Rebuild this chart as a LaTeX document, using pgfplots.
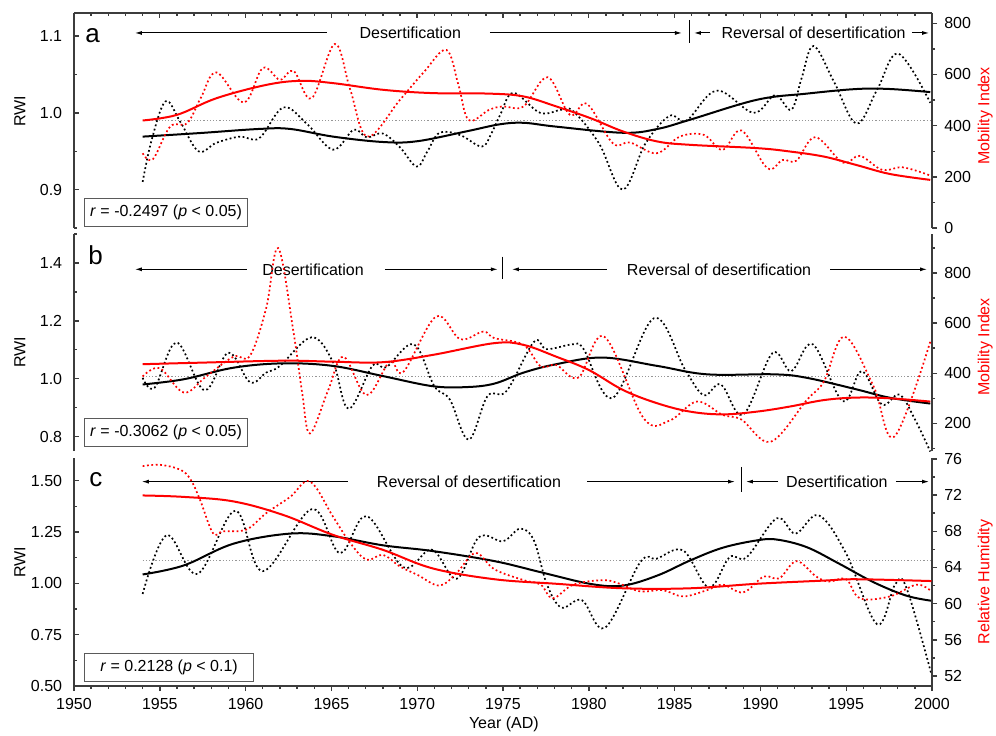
\documentclass[border=0pt]{standalone}
\usepackage{fontspec}
\setmainfont{Liberation Sans}
\usepackage{pgfplots}
\pgfplotsset{compat=1.18}
\usetikzlibrary{arrows.meta}
\definecolor{axgray}{RGB}{60,60,60}
\definecolor{boxgray}{RGB}{90,90,90}
\definecolor{meangray}{RGB}{150,150,150}
\tikzset{
  dotl/.style={line width=0.85pt, dash pattern=on 0.9pt off 1.3pt, smooth, tension=0.6},
  soll/.style={line width=1pt, smooth, tension=0.6},
  arr/.style={-{Latex[length=3.5pt,width=2pt]}, line width=0.5pt},
  ann/.style={font=\fontsize{8}{9.6}\selectfont, inner sep=0pt, anchor=center},
  rbox/.style={draw=boxgray, line width=0.5pt, inner sep=0pt, anchor=south west, font=\fontsize{8}{9.6}\selectfont, minimum height=14pt},
  lbl/.style={font=\fontsize{13}{15}\selectfont, inner sep=0pt, anchor=base west},
}
\pgfplotsset{
  base/.style={scale only axis, width=429pt, xmin=1950, xmax=2000, anchor=south west,
    clip mode=individual,
    axis line style={-, line width=0.9pt, draw=axgray},
    tick style={line width=0.7pt, draw=axgray},
    major tick length=2.6pt, minor tick length=1.6pt,
    xtick={1950,1955,...,2000}, minor x tick num=4,
    tick label style={font=\fontsize{8}{9.6}\selectfont, /pgf/number format/assume math mode=true, /pgf/number format/1000 sep={}},
  },
  lft/.style={base, axis y line*=left, tick align=inside, yticklabel style={xshift=-2.4pt}},
  rgt/.style={base, axis y line*=right, axis x line=none, tick align=outside},
}
\begin{document}
\begin{tikzpicture}
\useasboundingbox (0,0) rectangle (498pt,367.5pt);

% ================= Panel a =================
\begin{axis}[lft, height=107.5pt, at={(37pt,253.5pt)},
  axis x line*=top, xticklabels={},
  ymin=0.85, ymax=1.13, ytick={0.9,1.0,1.1}, minor ytick={0.85,0.95,1.05},
  yticklabel style={/pgf/number format/.cd, fixed, fixed zerofill, precision=1}]
\addplot[meangray, line width=0.5pt, dash pattern=on 0.6pt off 1pt] coordinates {(1954,0.9896) (2000,0.9896)};
\addplot[black, dotl] coordinates {(1954.0,0.910) (1954.53,0.965) (1955.34,1.015) (1956.2,0.988) (1957.25,0.950) (1958.3,0.961) (1959.67,0.969) (1960.8,0.967) (1962.2,1.007) (1963.6,0.985) (1965.1,0.952) (1966.3,0.978) (1967.06,0.968) (1968.0,0.973) (1969.0,0.955) (1969.97,0.930) (1970.6,0.950) (1971.3,0.974) (1972.5,0.971) (1973.76,0.956) (1974.3,0.972) (1974.85,0.998) (1975.6,1.026) (1977.16,1.000) (1978.4,1.004) (1979.1,1.002) (1980.6,0.960) (1981.97,0.900) (1983.3,0.960) (1984.7,0.996) (1985.7,0.990) (1987.45,1.029) (1989.6,1.000) (1990.85,1.023) (1991.8,1.004) (1992.4,1.045) (1993.1,1.087) (1994.3,1.040) (1995.6,0.986) (1996.8,1.030) (1998.04,1.077) (1999.9,1.013)};
\addplot[black, soll] coordinates {(1954,0.969) (1957.3,0.9736) (1960.8,0.979) (1962.6,0.979) (1965.1,0.969) (1968.0,0.962) (1970,0.963) (1972.9,0.976) (1974.8,0.985) (1976.2,0.987) (1978.1,0.982) (1982.0,0.974) (1984,0.979) (1985.9,0.991) (1989.8,1.017) (1992.7,1.025) (1995.6,1.031) (1997.55,1.031) (1999.9,1.027)};
\node[lbl] at (axis cs:1950.64,1.091) {a};
\draw[arr] (axis cs:1964.74,1.104) -- (axis cs:1953.55,1.104);
\node[ann] at (axis cs:1969.6,1.104) {Desertification};
\draw[arr] (axis cs:1974.24,1.104) -- (axis cs:1985.43,1.104);
\draw[line width=0.5pt] (axis cs:1985.84,1.121) -- (axis cs:1985.84,1.091);
\draw[arr] (axis cs:1987.06,1.104) -- (axis cs:1986.13,1.104);
\node[ann] at (axis cs:1993.1,1.104) {Reversal of desertification};
\draw[arr] (axis cs:1998.83,1.104) -- (axis cs:1999.83,1.104);
\node[rbox, minimum width=81.5pt] at (axis description cs:0.0117,0.005) {\textit{r} = -0.2497 (\textit{p} < 0.05)};
\node[font=\fontsize{8}{9.6}\selectfont, rotate=90, anchor=center] at (axis description cs:-0.063,0.544) {RWI};
\end{axis}
\begin{axis}[rgt, height=107.5pt, at={(37pt,253.5pt)},
  ymin=0, ymax=840, ytick={0,200,...,800}, minor ytick={100,300,500,700}]
\addplot[red, dotl] coordinates {(1954.0,292) (1954.6,269) (1955.6,396) (1956.6,410) (1957.4,510) (1958.3,608) (1959.9,490) (1961.0,625) (1962.0,579) (1962.8,614) (1963.85,507) (1965.2,719) (1966.1,540) (1967.1,357) (1969.0,501) (1970.4,610) (1971.7,696) (1972.4,560) (1973.0,422) (1974.2,462) (1975.0,475) (1976.2,475) (1977.6,589) (1978.9,442) (1979.9,485) (1981.4,331) (1982.4,334) (1983.96,292) (1985.3,357) (1986.7,364) (1987.8,305) (1988.9,381) (1990.4,234) (1991.3,266) (1992.1,263) (1993.2,355) (1994.8,256) (1995.8,282) (1997.1,227) (1998.3,237) (1999.9,205)};
\addplot[red, soll] coordinates {(1954,420) (1956,442) (1958.3,507) (1961.2,559) (1963.2,575) (1965.1,566) (1968.0,540) (1970.9,527) (1974.2,525) (1976.2,514) (1978.1,475) (1980.1,429) (1982.0,377) (1984.0,338) (1985.9,325) (1989.8,312) (1991.7,299) (1993.7,279) (1995.6,246) (1997.55,211) (1999.9,188)};
\node[font=\fontsize{8}{9.6}\selectfont, rotate=90, anchor=center, text=red] at (axis description cs:1.062,0.521) {Mobility Index};
\end{axis}

% ================= Panel b =================
\begin{axis}[lft, height=108.5pt, at={(37pt,142pt)}, axis x line=none,
  ymin=0.75, ymax=1.5, ytick={0.8,1.0,1.2,1.4}, minor ytick={0.9,1.1,1.3,1.5},
  yticklabel style={/pgf/number format/.cd, fixed, fixed zerofill, precision=1}]
\addplot[meangray, line width=0.5pt, dash pattern=on 0.6pt off 1pt] coordinates {(1954,1.009) (2000,1.009)};
\addplot[black, dotl] coordinates {(1954,1.003) (1954.7,0.969) (1955.98,1.125) (1957.6,0.960) (1959.0,1.090) (1960.25,0.988) (1961.2,1.021) (1962.0,1.044) (1963.85,1.143) (1965.1,1.056) (1966.0,0.896) (1967.4,1.045) (1968.2,1.040) (1969.8,1.119) (1971.0,0.974) (1971.9,0.928) (1973.0,0.789) (1974.1,0.940) (1975.2,0.957) (1976.8,1.127) (1977.55,1.102) (1979.1,1.119) (1979.7,1.102) (1981.4,0.934) (1983.8,1.209) (1985.6,1.032) (1986.7,0.943) (1987.7,0.980) (1989.0,0.876) (1990.7,1.088) (1991.8,1.026) (1993.05,1.119) (1994.8,0.922) (1995.9,1.026) (1997.07,0.911) (1998.1,0.945) (1999.0,0.860) (1999.9,0.748)};
\addplot[black, soll] coordinates {(1954,0.980) (1956.4,0.998) (1959.3,1.038) (1962.2,1.053) (1965.1,1.044) (1968.0,1.009) (1970.9,0.974) (1972.9,0.971) (1974.5,0.983) (1976.2,1.021) (1978.1,1.050) (1980.8,1.073) (1984.0,1.044) (1986.9,1.015) (1990.8,1.015) (1992.7,1.003) (1995.6,0.963) (1997.55,0.934) (1999.9,0.914)};
\node[lbl] at (axis cs:1950.82,1.394) {b};
\draw[arr] (axis cs:1960.08,1.378) -- (axis cs:1953.55,1.378);
\node[ann] at (axis cs:1963.93,1.378) {Desertification};
\draw[arr] (axis cs:1968.12,1.378) -- (axis cs:1974.7,1.378);
\draw[line width=0.5pt] (axis cs:1975.0,1.422) -- (axis cs:1975.0,1.345);
\draw[arr] (axis cs:1981.06,1.378) -- (axis cs:1975.52,1.378);
\node[ann] at (axis cs:1987.59,1.378) {Reversal of desertification};
\draw[arr] (axis cs:1994.06,1.378) -- (axis cs:1999.71,1.378);
\node[rbox, minimum width=81.5pt] at (axis description cs:0.0117,0.018) {\textit{r} = -0.3062 (\textit{p} < 0.05)};
\node[font=\fontsize{8}{9.6}\selectfont, rotate=90, anchor=center] at (axis description cs:-0.063,0.456) {RWI};
\end{axis}
\begin{axis}[rgt, height=108.5pt, at={(37pt,142pt)},
  ymin=90, ymax=955, ytick={200,400,600,800}, minor ytick={100,300,500,700,900}]
\addplot[red, dotl] coordinates {(1954,387) (1955.0,420) (1956.4,323) (1957.7,387) (1959.3,466) (1960.25,469) (1961.2,660) (1961.9,899) (1962.8,560) (1963.3,320) (1963.75,160) (1964.8,330) (1965.7,466) (1967.05,313) (1968.4,446) (1969.2,406) (1971.1,626) (1972.5,536) (1973.85,566) (1974.5,540) (1976.2,513) (1977.2,427) (1978.1,433) (1979.4,383) (1980.9,546) (1983.2,220) (1984.7,211) (1986.3,287) (1987.8,234) (1988.9,215) (1990.6,127) (1992.7,293) (1993.7,367) (1994.9,546) (1996.6,347) (1997.8,147) (1999.9,526)};
\addplot[red, soll] coordinates {(1954,436) (1957.3,442) (1962.2,450) (1965.1,446) (1968,444) (1970.9,473) (1974.5,520) (1976.2,513) (1978.1,466) (1980.0,413) (1982.0,333) (1984.0,280) (1985.9,247) (1987.8,236) (1989.8,247) (1991.7,267) (1993.7,293) (1995.6,303) (1997.55,300) (1999.9,287)};
\node[font=\fontsize{8}{9.6}\selectfont, rotate=90, anchor=center, text=red] at (axis description cs:1.062,0.479) {Mobility Index};
\end{axis}

% ================= Panel c =================
\begin{axis}[lft, height=114pt, at={(37pt,24.5pt)}, axis x line=none,
  ymin=0.5, ymax=1.61, ytick={0.5,0.75,1.0,1.25,1.5}, minor ytick={0.625,0.875,1.125,1.375},
  yticklabel style={/pgf/number format/.cd, fixed, fixed zerofill, precision=2}]
\addplot[meangray, line width=0.5pt, dash pattern=on 0.6pt off 1pt] coordinates {(1954,1.111) (2000,1.111)};
\addplot[black, dotl] coordinates {(1954,0.948) (1955.4,1.234) (1957.2,1.046) (1959.4,1.353) (1961.0,1.059) (1963.85,1.361) (1965.5,1.147) (1967.05,1.327) (1969.2,1.078) (1970.85,1.164) (1972.3,1.022) (1973.6,1.225) (1975.0,1.205) (1976.0,1.266) (1976.8,1.209) (1977.55,0.997) (1978.4,0.882) (1979.6,0.918) (1980.95,0.784) (1983.0,1.103) (1983.96,1.120) (1985.5,1.160) (1987.0,0.980) (1988.2,1.127) (1989.2,1.127) (1990.95,1.316) (1992.05,1.242) (1993.4,1.331) (1995.0,1.144) (1996.8,0.801) (1997.85,0.994) (1998.5,0.980) (1999.97,0.556)};
\addplot[black, soll] coordinates {(1954,1.043) (1956.4,1.087) (1959.3,1.193) (1962.6,1.242) (1965.1,1.229) (1968.0,1.185) (1970.9,1.157) (1974.5,1.108) (1977.2,1.054) (1980.1,0.997) (1982.0,0.989) (1984.0,1.038) (1985.9,1.111) (1987.8,1.173) (1989.8,1.209) (1990.95,1.213) (1992.7,1.176) (1994.6,1.095) (1996.6,1.005) (1998.5,0.940) (1999.97,0.915)};
\node[lbl] at (axis cs:1950.87,1.469) {c};
\draw[arr] (axis cs:1965.95,1.495) -- (axis cs:1953.95,1.495);
\node[ann] at (axis cs:1973.02,1.495) {Reversal of desertification};
\draw[arr] (axis cs:1979.9,1.495) -- (axis cs:1988.52,1.495);
\draw[line width=0.5pt] (axis cs:1988.87,1.567) -- (axis cs:1988.87,1.444);
\draw[arr] (axis cs:1991.03,1.495) -- (axis cs:1989.16,1.495);
\node[ann] at (axis cs:1994.46,1.495) {Desertification};
\draw[arr] (axis cs:1997.9,1.495) -- (axis cs:1999.83,1.495);
\node[rbox, minimum width=84.5pt] at (axis description cs:0.0117,0.0175) {\textit{r} = 0.2128 (\textit{p} < 0.1)};
\node[font=\fontsize{8}{9.6}\selectfont, rotate=90, anchor=center] at (axis description cs:-0.063,0.544) {RWI};
\node[font=\fontsize{8}{9.6}\selectfont, anchor=center] at (axis description cs:0.501,-0.167) {Year (AD)};
\end{axis}
\begin{axis}[rgt, height=114pt, at={(37pt,24.5pt)},
  ymin=50.9, ymax=76.1, ytick={52,56,...,76}, minor ytick={54,58,...,74}]
\addplot[red, dotl] coordinates {(1954,75.2) (1955.0,75.35) (1956.2,74.8) (1956.8,73.7) (1957.34,71.5) (1958.1,67.8) (1958.7,68.0) (1960.05,68.2) (1961.2,70.0) (1962.6,71.8) (1963.75,73.5) (1965.1,69.6) (1966.1,66.7) (1967.05,64.85) (1968,65.4) (1969,64.1) (1970,63.2) (1971.3,62.0) (1972.3,63.4) (1973.4,65.6) (1974.5,63.8) (1976.2,62.6) (1977.2,62.1) (1977.9,60.6) (1979.1,62.1) (1980.85,62.6) (1981.8,62.2) (1983.0,61.35) (1984.3,61.5) (1985.5,60.8) (1986.9,61.5) (1987.8,62.1) (1989.0,61.25) (1990.2,63.0) (1991.1,62.8) (1992.1,64.7) (1993.25,63.0) (1994.0,62.45) (1995.0,62.7) (1995.8,60.6) (1997.55,60.8) (1999.1,62.1) (1999.97,61.35)};
\addplot[red, soll] coordinates {(1954,71.96) (1956.4,71.8) (1959.3,71.3) (1962.2,69.8) (1965.1,67.6) (1968.0,65.95) (1970.9,63.9) (1974.5,62.7) (1978.1,62.2) (1982.0,61.7) (1985.9,61.7) (1989.8,62.2) (1993.7,62.55) (1995.6,62.7) (1999.97,62.5)};
\node[font=\fontsize{8}{9.6}\selectfont, rotate=90, anchor=center, text=red] at (axis description cs:1.062,0.456) {Relative Humidity};
\end{axis}
\begin{axis}[base, height=114pt, at={(37pt,24.5pt)}, axis x line*=bottom, axis y line=none, tick align=outside,
  ymin=0, ymax=1]
\addplot[draw=none] coordinates {(1960,0.5)};
\end{axis}
\end{tikzpicture}
\end{document}
